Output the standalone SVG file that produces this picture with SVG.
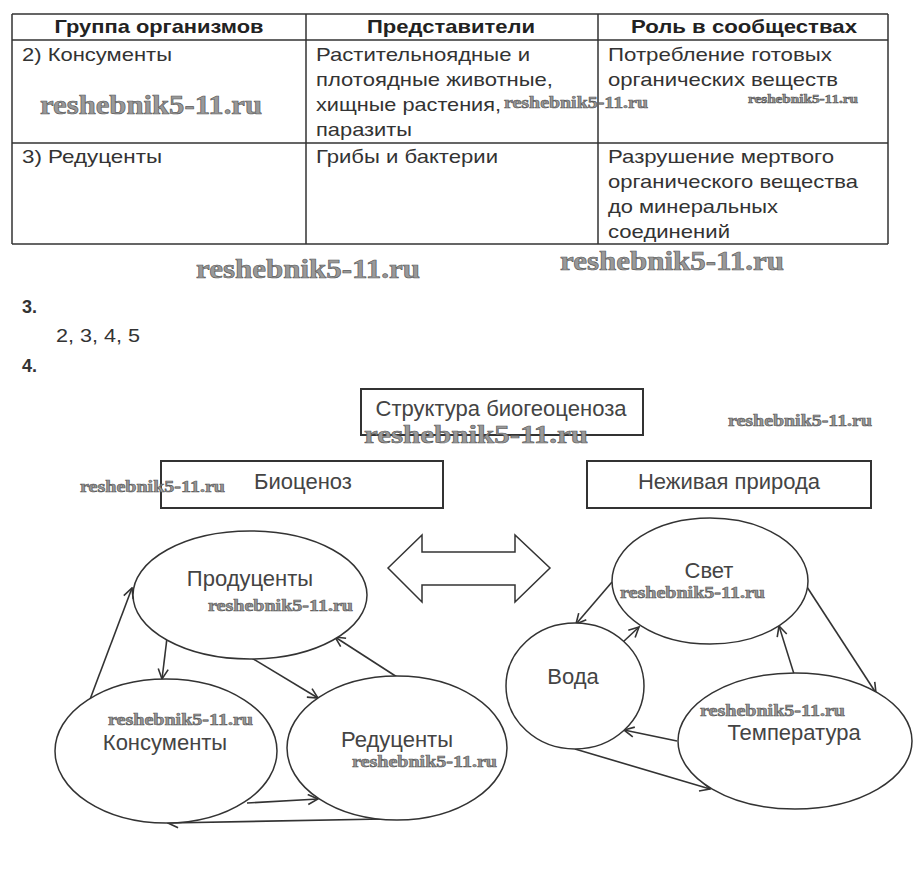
<svg xmlns="http://www.w3.org/2000/svg" width="922" height="881" viewBox="0 0 922 881">
<defs>
<style>
.tl{stroke:#333;stroke-width:1.5;fill:none}
.th{font-family:"Liberation Sans",Arial,sans-serif;font-weight:bold;font-size:19px;fill:#222;text-anchor:middle}
.tb{font-family:"Liberation Sans",Arial,sans-serif;font-size:19px;fill:#333}
.num{font-family:"Liberation Sans",Arial,sans-serif;font-size:18px;fill:#333}
.dg{font-family:"Liberation Sans",Arial,sans-serif;font-size:22px;fill:#444;text-anchor:middle}
.wm{font-family:"Liberation Serif","Times New Roman",serif;font-weight:bold;fill:#999;stroke:#555;stroke-width:0.6}
.box{fill:#fff;stroke:#333;stroke-width:2}
.el{fill:#fff;stroke:#333;stroke-width:1.5}
.cn{stroke:#333;stroke-width:1.6;fill:none;marker-end:url(#ah)}
</style>
<marker id="ah" viewBox="0 0 12 12" refX="11" refY="6" markerWidth="12" markerHeight="12" markerUnits="userSpaceOnUse" orient="auto">
<path d="M1,1 L11,6 L1,11" fill="none" stroke="#333" stroke-width="1.6"/>
</marker>
</defs>
<rect width="922" height="881" fill="#fff"/>

<g id="table">
<path class="tl" d="M12,14 H888 M12,40 H888 M12,143 H888 M12,244 H888 M12,14 V244 M306,14 V244 M598,14 V244 M888,14 V244"/>
<text class="th" x="159" y="33" textLength="209" lengthAdjust="spacingAndGlyphs">Группа организмов</text>
<text class="th" x="451" y="33" textLength="168" lengthAdjust="spacingAndGlyphs">Представители</text>
<text class="th" x="744" y="33" textLength="226" lengthAdjust="spacingAndGlyphs">Роль в сообществах</text>
<text class="tb" x="22" y="61" textLength="150" lengthAdjust="spacingAndGlyphs">2) Консументы</text>
<text class="tb" x="316" y="61" textLength="214" lengthAdjust="spacingAndGlyphs">Растительноядные и</text>
<text class="tb" x="316" y="86" textLength="237" lengthAdjust="spacingAndGlyphs">плотоядные животные,</text>
<text class="tb" x="316" y="111" textLength="185" lengthAdjust="spacingAndGlyphs">хищные растения,</text>
<text class="tb" x="316" y="136" textLength="96" lengthAdjust="spacingAndGlyphs">паразиты</text>
<text class="tb" x="608" y="61" textLength="224" lengthAdjust="spacingAndGlyphs">Потребление готовых</text>
<text class="tb" x="608" y="86" textLength="230" lengthAdjust="spacingAndGlyphs">органических веществ</text>
<text class="tb" x="22" y="163" textLength="140" lengthAdjust="spacingAndGlyphs">3) Редуценты</text>
<text class="tb" x="316" y="163" textLength="182" lengthAdjust="spacingAndGlyphs">Грибы и бактерии</text>
<text class="tb" x="608" y="163" textLength="226" lengthAdjust="spacingAndGlyphs">Разрушение мертвого</text>
<text class="tb" x="608" y="188" textLength="250" lengthAdjust="spacingAndGlyphs">органического вещества</text>
<text class="tb" x="608" y="213" textLength="170" lengthAdjust="spacingAndGlyphs">до минеральных</text>
<text class="tb" x="608" y="238" textLength="122" lengthAdjust="spacingAndGlyphs">соединений</text>
</g>

<g id="answers">
<text class="num" x="22" y="313" font-weight="bold">3.</text>
<text class="num" x="56" y="342" font-size="19" textLength="84" lengthAdjust="spacingAndGlyphs">2, 3, 4, 5</text>
<text class="num" x="22" y="372" font-weight="bold">4.</text>
</g>

<g id="connectors">
<polygon points="388,568 422,535 422,552 515,552 515,535 550,568 515,602 515,585 422,585 422,602" fill="#fff" stroke="#333" stroke-width="1.5"/>
<line class="cn" x1="89" y1="702" x2="132" y2="588"/>
<line class="cn" x1="167" y1="638" x2="162" y2="679"/>
<line class="cn" x1="250" y1="657" x2="318" y2="698"/>
<line class="cn" x1="397" y1="677" x2="335" y2="637"/>
<line class="cn" x1="247" y1="803" x2="318" y2="799"/>
<line class="cn" x1="383" y1="819" x2="168" y2="823"/>
<line class="cn" x1="612" y1="582" x2="576" y2="624"/>
<line class="cn" x1="623" y1="642" x2="639" y2="627"/>
<line class="cn" x1="807" y1="587" x2="876" y2="693"/>
<line class="cn" x1="794" y1="674" x2="779" y2="626"/>
<line class="cn" x1="677" y1="741" x2="624" y2="730"/>
<line class="cn" x1="575" y1="749" x2="710" y2="789"/>
</g>

<g id="structure">
<rect class="box" x="361" y="389" width="282" height="46"/>
<text class="dg" x="501" y="416" textLength="251" lengthAdjust="spacingAndGlyphs">Структура биогеоценоза</text>
</g>
<g id="biocenosis">
<rect class="box" x="161" y="461" width="282" height="47"/>
<text class="dg" x="303" y="489">Биоценоз</text>
</g>
<g id="nonliving">
<rect class="box" x="587" y="461" width="284" height="47"/>
<text class="dg" x="729" y="489">Неживая природа</text>
</g>
<g id="producers">
<ellipse class="el" cx="250" cy="595" rx="117" ry="64"/>
<text class="dg" x="250" y="586">Продуценты</text>
</g>
<g id="consumers">
<ellipse class="el" cx="166" cy="751" rx="111" ry="72"/>
<text class="dg" x="165" y="750">Консументы</text>
</g>
<g id="reducers">
<ellipse class="el" cx="397" cy="748" rx="110" ry="72"/>
<text class="dg" x="397" y="747">Редуценты</text>
</g>
<g id="light">
<ellipse class="el" cx="710" cy="581" rx="98" ry="63"/>
<text class="dg" x="709" y="578">Свет</text>
</g>
<g id="water">
<ellipse class="el" cx="575" cy="686" rx="69" ry="63"/>
<text class="dg" x="573" y="684">Вода</text>
</g>
<g id="temperature">
<ellipse class="el" cx="795" cy="741" rx="117" ry="68"/>
<text class="dg" x="794" y="740">Температура</text>
</g>

<g id="watermarks">
<text class="wm" x="40" y="114" font-size="27" textLength="222" lengthAdjust="spacingAndGlyphs">reshebnik5-11.ru</text>
<text class="wm" x="504" y="108" font-size="17" textLength="144" lengthAdjust="spacingAndGlyphs">reshebnik5-11.ru</text>
<text class="wm" x="748" y="103" font-size="13" textLength="110" lengthAdjust="spacingAndGlyphs">reshebnik5-11.ru</text>
<text class="wm" x="196" y="278" font-size="27" textLength="224" lengthAdjust="spacingAndGlyphs">reshebnik5-11.ru</text>
<text class="wm" x="560" y="270" font-size="27" textLength="224" lengthAdjust="spacingAndGlyphs">reshebnik5-11.ru</text>
<text class="wm" x="364" y="443" font-size="26" textLength="224" lengthAdjust="spacingAndGlyphs">reshebnik5-11.ru</text>
<text class="wm" x="728" y="426" font-size="17" textLength="144" lengthAdjust="spacingAndGlyphs">reshebnik5-11.ru</text>
<text class="wm" x="80" y="492" font-size="17" textLength="145" lengthAdjust="spacingAndGlyphs">reshebnik5-11.ru</text>
<text class="wm" x="208" y="611" font-size="17" textLength="145" lengthAdjust="spacingAndGlyphs">reshebnik5-11.ru</text>
<text class="wm" x="108" y="725" font-size="17" textLength="145" lengthAdjust="spacingAndGlyphs">reshebnik5-11.ru</text>
<text class="wm" x="352" y="767" font-size="17" textLength="145" lengthAdjust="spacingAndGlyphs">reshebnik5-11.ru</text>
<text class="wm" x="620" y="598" font-size="17" textLength="145" lengthAdjust="spacingAndGlyphs">reshebnik5-11.ru</text>
<text class="wm" x="700" y="716" font-size="17" textLength="145" lengthAdjust="spacingAndGlyphs">reshebnik5-11.ru</text>
</g>
</svg>
